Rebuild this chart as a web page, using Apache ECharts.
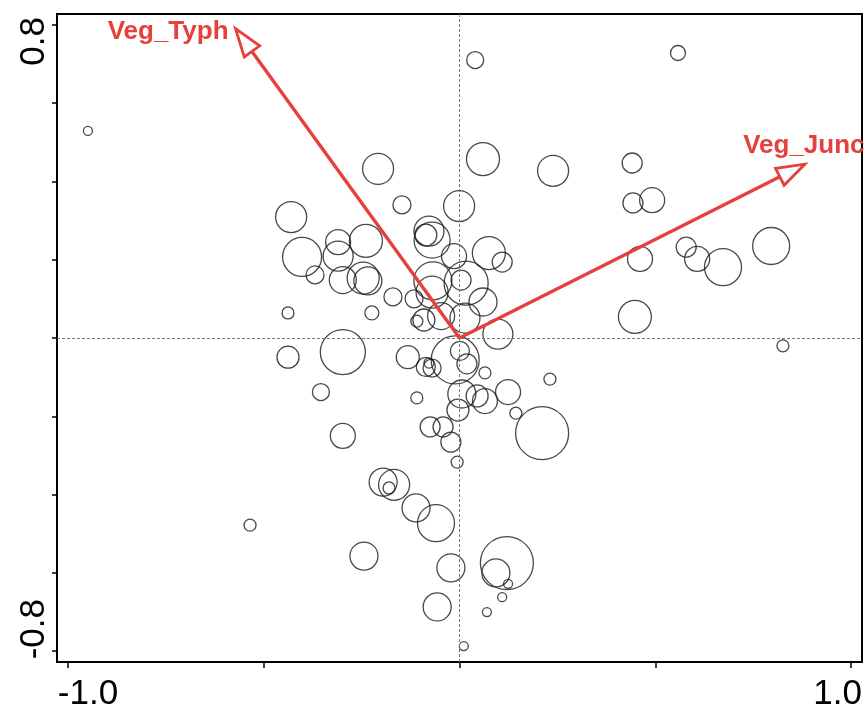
<!DOCTYPE html>
<html>
<head>
<meta charset="utf-8">
<title>Biplot</title>
<script src="https://cdn.jsdelivr.net/npm/echarts@6/dist/echarts.min.js"></script>
<style>
    html, body { margin: 0; padding: 0; background: #fff; }
    #main { width: 865px; height: 709px; }
</style>
</head>
<body>
<div id="main"></div>
<script>
// 样方得分 (轴1, 轴2) 和圆圈权重
var siteX = [-0.949, 0.040, 0.558, 0.060, 0.239, -0.208, 0.441, 0.443, 0.492, -0.147,
    -0.001, -0.430, 0.461, 0.579, 0.607, 0.673, 0.796, -0.402, -0.310, -0.239,
    -0.310, -0.369, -0.298, -0.246, -0.234, -0.170, -0.224, -0.438, -0.116, -0.078,
    -0.086, -0.070, -0.014, 0.075, 0.109, -0.068, 0.017, 0.004, -0.070, 0.060,
    -0.047, 0.014, -0.091, -0.109, 0.098, 0.448, 0.826, 0.231, -0.438, -0.298,
    -0.132, -0.011, 0.001, 0.019, -0.078, -0.086, -0.070, 0.065, -0.354, -0.109,
    0.006, 0.045, 0.065, 0.124, -0.004, 0.144, 0.211, -0.298, -0.075, -0.042,
    -0.022, -0.006, -0.195, -0.167, -0.180, -0.111, -0.060, -0.535, -0.244, -0.022,
    0.121, 0.093, 0.124, 0.109, 0.070, -0.057, 0.011];
var siteY = [0.529, 0.710, 0.728, 0.457, 0.427, 0.432, 0.447, 0.345, 0.352, 0.340,
    0.337, 0.309, 0.202, 0.232, 0.202, 0.181, 0.235, 0.207, 0.245, 0.248,
    0.209, 0.161, 0.148, 0.153, 0.146, 0.105, 0.064, 0.064, 0.100, 0.273,
    0.263, 0.250, 0.209, 0.217, 0.194, 0.146, 0.140, 0.148, 0.117, 0.092,
    0.056, 0.051, 0.046, 0.043, 0.010, 0.054, -0.020, -0.105, -0.049, -0.036,
    -0.049, -0.056, -0.033, -0.066, -0.064, -0.074, -0.077, -0.089, -0.138, -0.153,
    -0.143, -0.148, -0.161, -0.138, -0.184, -0.192, -0.243, -0.250, -0.227, -0.227,
    -0.266, -0.317, -0.368, -0.375, -0.383, -0.434, -0.473, -0.478, -0.557, -0.587,
    -0.575, -0.600, -0.628, -0.662, -0.700, -0.687, -0.787];
var siteW = [4.5, 8.5, 7.5, 16.5, 15.5, 15.5, 10, 10, 12.5, 9,
    15.5, 15.5, 12.5, 10, 12.5, 18.5, 18.5, 19.5, 12.5, 16.5,
    15, 9, 13.5, 16, 14, 9, 7, 6, 9, 15,
    11, 18, 12.5, 16.5, 10, 19, 22, 10, 16, 14,
    13.5, 15, 11, 6, 15, 16.5, 6, 6, 11, 22.5,
    11.5, 24, 9.5, 10, 5, 9.5, 9, 6, 8.5, 6,
    14, 11, 12.5, 12.5, 11, 6, 26.5, 12.5, 10, 10,
    10, 6, 14, 15.5, 6, 14, 18.5, 6, 14, 14,
    26.5, 14, 4.5, 4.5, 4.5, 14, 4.5];

// 环境变量箭头
var envNames = ['Veg_Typh', 'Veg_Junc'];
var envX = [-0.572, 0.882];
var envY = [0.790, 0.444];

// 刻度
var xTicks = [-1.0, -0.5, 0, 0.5, 1.0];
var xLabels = [-1.0, 1.0];
var yTicks = [-0.8, -0.6, -0.4, -0.2, 0, 0.2, 0.4, 0.6, 0.8];
var yLabels = [-0.8, 0.8];

var red = '#e5403c';
var tickFont = "'Liberation Sans', Arial, sans-serif";

var sites = siteX.map(function (x, i) { return [x, siteY[i], siteW[i]]; });
var envData = envX.map(function (x, i) { return [x, envY[i], i]; });

var myChart = echarts.init(document.getElementById('main'));

var option = {
    animation: false,
    grid: {
        left: 57, right: 3, top: 14, bottom: 47,
        containLabel: false,
        outerBoundsMode: 'none',
        show: true, borderColor: '#000', borderWidth: 2, backgroundColor: 'transparent'
    },
    xAxis: {
        type: 'value',
        min: -1.028, max: 1.028,
        axisLine: { show: false, onZero: false },
        splitLine: { show: false },
        axisTick: {
            show: true, inside: false, length: 6,
            customValues: xTicks,
            lineStyle: { color: '#000', width: 1.5 }
        },
        axisLabel: {
            customValues: xLabels,
            margin: 15,
            color: '#000',
            fontFamily: tickFont,
            fontSize: 35,
            formatter: function (v) {
                return v > 0 ? '{r|' + v.toFixed(1) + '}' : '{l|' + v.toFixed(1) + '}';
            },
            rich: {
                r: { fontFamily: tickFont, fontSize: 35, color: '#000', padding: [0, 27, 0, 0] },
                l: { fontFamily: tickFont, fontSize: 35, color: '#000', padding: [0, 0, 0, 40] }
            }
        }
    },
    yAxis: {
        type: 'value',
        min: -0.8276, max: 0.8276,
        axisLine: { show: false, onZero: false },
        splitLine: { show: false },
        axisTick: {
            show: true, inside: false, length: 5,
            customValues: yTicks,
            lineStyle: { color: '#000', width: 1.5 }
        },
        axisLabel: {
            customValues: yLabels,
            rotate: 90,
            margin: 5,
            color: '#000',
            fontFamily: tickFont,
            fontSize: 35,
            formatter: function (v) {
                return v > 0 ? '{t|' + v.toFixed(1) + '}' : '{b|' + v.toFixed(1) + '}';
            },
            rich: {
                t: { fontFamily: tickFont, fontSize: 35, color: '#000', padding: [0, 33, 0, 0] },
                b: { fontFamily: tickFont, fontSize: 35, color: '#000', padding: [0, 0, 0, 44] }
            }
        }
    },
    series: [
        {
            type: 'scatter',
            data: sites,
            symbol: 'circle',
            symbolSize: function (v) { return v[2] * 2; },
            itemStyle: { color: 'rgba(0,0,0,0)', borderColor: '#1a1a1a', borderWidth: 1.3 },
            emphasis: { disabled: true },
            silent: true,
            markLine: {
                silent: true,
                symbol: 'none',
                label: { show: false },
                lineStyle: { color: '#777', width: 1, type: [3, 2] },
                data: [{ xAxis: 0 }, { yAxis: 0 }]
            },
            z: 2
        },
        {
            type: 'custom',
            data: envData,
            z: 5,
            silent: true,
            renderItem: function (params, api) {
                var o = api.coord([0, 0]);
                var tip = api.coord([api.value(0), api.value(1)]);
                var dx = tip[0] - o[0], dy = tip[1] - o[1];
                var len = Math.sqrt(dx * dx + dy * dy);
                var ux = dx / len, uy = dy / len;
                var headLen = 28, halfW = 9.5;
                var bx = tip[0] - ux * headLen, by = tip[1] - uy * headLen;
                var c1 = [bx - uy * halfW, by + ux * halfW];
                var c2 = [bx + uy * halfW, by - ux * halfW];
                var name = envNames[api.value(2)];
                var steep = Math.abs(dy) > Math.abs(dx);
                return {
                    type: 'group',
                    children: [
                        {
                            type: 'line',
                            shape: { x1: o[0], y1: o[1], x2: bx, y2: by },
                            style: { stroke: red, lineWidth: 3.4 }
                        },
                        {
                            type: 'polygon',
                            shape: { points: [tip, c1, c2] },
                            style: { fill: '#fff', stroke: red, lineWidth: 2.8, lineJoin: 'miter' }
                        },
                        {
                            type: 'text',
                            style: {
                                text: name,
                                x: steep ? tip[0] - 7 : tip[0] - 1,
                                y: steep ? tip[1] + 3 : tip[1] - 18,
                                fill: red,
                                font: "bold 26px 'Liberation Sans', Arial, sans-serif",
                                align: steep ? 'right' : 'center',
                                verticalAlign: 'middle',
                                textAlign: steep ? 'right' : 'center',
                                textVerticalAlign: 'middle'
                            }
                        }
                    ]
                };
            }
        }
    ]
};

myChart.setOption(option);
</script>
</body>
</html>
